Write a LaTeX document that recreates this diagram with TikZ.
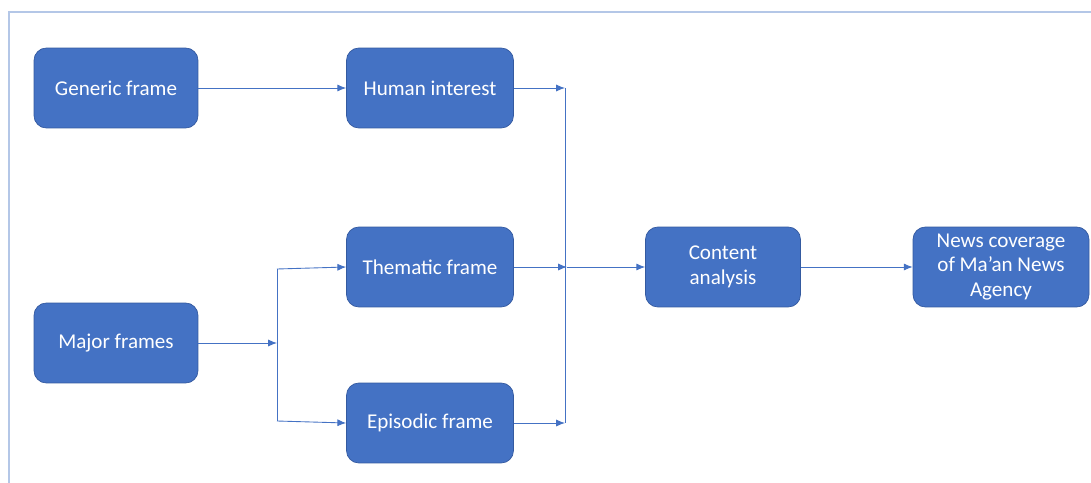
\documentclass[tikz,border=0pt]{standalone}
\usepackage{fontspec}
\setmainfont{Carlito}
\usetikzlibrary{arrows.meta}
\definecolor{boxblue}{RGB}{68,114,196}
\definecolor{boxedge}{RGB}{52,90,160}
\definecolor{rimblue}{RGB}{180,199,231}
\begin{document}
\begin{tikzpicture}[x=.02cm, y=-.02cm,
    frame/.style={draw=boxedge, fill=boxblue, rounded corners=7pt, text=white,
        minimum height=1.6cm, align=center, font=\fontsize{12}{14}\selectfont, inner sep=2pt},
    flow/.style={draw=boxblue, line width=.5pt, -{Latex[length=5pt,width=4pt]}},
    link/.style={draw=boxblue, line width=.5pt}]
        \useasboundingbox (0, 0) rectangle (1091, 483);
        \draw[rimblue, line width=.6pt] (9, 483) -- (9, 12) -- (1091, 12);

        \draw (116, 88) node[frame, minimum width=3.28cm] (generic) {Generic frame};
        \draw (116, 343) node[frame, minimum width=3.28cm] (major) {Major frames};
        \draw (430, 88) node[frame, minimum width=3.34cm] (human) {Human interest};
        \draw (430, 267) node[frame, minimum width=3.34cm] (thematic) {Thematic frame};
        \draw (430, 423) node[frame, minimum width=3.34cm] (episodic) {Episodic frame};
        \draw (723, 267) node[frame, minimum width=3.1cm] (content) {Content\\analysis};
        \draw (1001, 267) node[frame, minimum width=3.52cm] (news) {News coverage\\of Ma’an News\\Agency};

        \coordinate (split) at (277, 343);
        \coordinate (splittop) at (277, 269);
        \coordinate (splitbot) at (277, 421);
        \coordinate (jtop) at (565, 88);
        \coordinate (jmid) at (567, 267);
        \coordinate (jbot) at (565, 423);

        \draw[flow] (generic) -- (human);
        \draw[flow] (major) -- (split);
        \draw[link] (splittop) -- (splitbot);
        \draw[flow] (splittop) -- (thematic.west);
        \draw[flow] (splitbot) -- (episodic.west);

        \draw[flow] (human) -- (jtop);
        \draw[flow] (episodic) -- (jbot);
        \draw[link] (jtop) -- (jbot);
        \draw[flow] (thematic) -- (jmid);
        \draw[flow] (jmid) -- (content);
        \draw[flow] (content) -- (news);
    \end{tikzpicture}
\end{document}
